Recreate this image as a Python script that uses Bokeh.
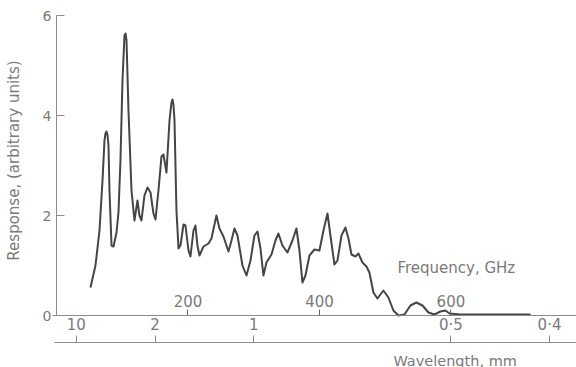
import math
from bokeh.plotting import figure
from bokeh.models import LinearAxis, FixedTicker, Label, Range1d
from bokeh.embed import file_html
from bokeh.resources import INLINE

# ---- data ----
freq_ghz = [51.7, 59.3, 65.4, 70.0, 73.0, 74.5, 76.0, 77.5, 79.1, 80.6, 83.7, 86.7,
            91.3, 94.3, 97.3, 100.4, 103.4, 105.0, 106.5, 109.5, 114.1, 118.6, 123.2,
            126.2, 129.3, 133.8, 138.4, 143.0, 147.5, 150.6, 155.1, 159.7, 162.7,
            167.3, 171.9, 174.9, 176.4, 177.9, 179.5, 182.5, 185.6, 188.6, 193.2, 196.2, 200.8,
            203.8, 208.4, 211.4, 214.4, 217.5, 223.6, 231.2, 235.7, 243.3, 247.9,
            254.0, 261.6, 266.2, 270.7, 275.3, 282.9, 289.0, 295.1, 301.1, 305.7,
            310.3, 314.8, 319.4, 327.0, 333.1, 337.6, 343.7, 351.3, 358.9, 365.0,
            369.6, 374.1, 378.7, 384.8, 392.4, 400.0, 406.1, 412.2, 416.7, 422.8,
            427.4, 433.5, 439.5, 444.1, 448.7, 454.8, 459.3, 465.4, 471.5, 476.0,
            482.1, 488.2, 497.3, 504.9, 512.5, 520.2, 529.3, 538.4, 547.5, 556.7,
            565.8, 574.9, 584.0, 591.6, 597.9, 614.4, 721.0]
response = [0.56, 1.0, 1.7, 2.7, 3.5, 3.64, 3.68, 3.62, 3.4, 2.5, 1.4, 1.38,
            1.66, 2.06, 3.1, 4.7, 5.6, 5.64, 5.5, 4.1, 2.5, 1.9, 2.3,
            2.0, 1.9, 2.4, 2.56, 2.46, 2.04, 1.92, 2.5, 3.18, 3.22,
            2.86, 3.9, 4.26, 4.32, 4.22, 3.9, 2.1, 1.34, 1.4, 1.82, 1.8, 1.3,
            1.18, 1.7, 1.8, 1.4, 1.2, 1.38, 1.44, 1.54, 2.0, 1.74,
            1.58, 1.28, 1.5, 1.74, 1.6, 1.0, 0.8, 1.1, 1.6, 1.68,
            1.34, 0.8, 1.06, 1.22, 1.5, 1.64, 1.4, 1.26, 1.5, 1.74,
            1.3, 0.66, 0.8, 1.2, 1.32, 1.3, 1.7, 2.04, 1.6, 1.02,
            1.1, 1.6, 1.76, 1.54, 1.22, 1.18, 1.24, 1.06, 0.98, 0.86,
            0.46, 0.34, 0.5, 0.36, 0.1, 0.0, 0.02, 0.2, 0.26, 0.2,
            0.06, 0.02, 0.08, 0.1, 0.04, 0.02, 0.02]

y_ticks = [0, 2, 4, 6]
freq_ticks = [200, 400, 600]
wavelength_mm = [10, 2, 1, 0.5, 0.4]
wavelength_labels = ["10", "2", "1", "0·5", "0·4"]

C_MM_GHZ = 300.0  # c in mm*GHz
wl_tick_freqs = [C_MM_GHZ / w for w in wavelength_mm]

TEXT = "#7a7a7a"
AXIS = "#8c8c8c"
FONT = "DejaVu Sans"

p = figure(width=576, height=367, output_backend="svg", toolbar_location=None,
           x_range=Range1d(-85.17, 791), y_range=Range1d(-1.04, 6.3),
           x_axis_location=None, y_axis_location=None, min_border=0)
p.grid.visible = False
p.outline_line_color = None
p.background_fill_color = "white"
p.border_fill_color = "white"

p.line(freq_ghz, response, line_color="#454545", line_width=2, line_join="round")

# left axis (fixed at 0 GHz)
yax = LinearAxis(fixed_location=0, ticker=FixedTicker(ticks=y_ticks), bounds=(0, 6),
                 major_tick_in=8, major_tick_out=0, minor_tick_line_color=None,
                 axis_line_color=AXIS, major_tick_line_color=AXIS,
                 major_label_text_color=TEXT, major_label_text_font=FONT,
                 major_label_text_font_size="14px", major_label_standoff=5)
p.add_layout(yax, "left")

# frequency axis (at response 0)
fax = LinearAxis(fixed_location=0, ticker=FixedTicker(ticks=freq_ticks), bounds=(-6, 791),
                 major_tick_in=0, major_tick_out=6, minor_tick_line_color=None,
                 axis_line_color=AXIS, major_tick_line_color="#666666",
                 major_label_text_color=TEXT, major_label_text_font=FONT,
                 major_label_text_font_size="15px", major_label_standoff=3)
p.add_layout(fax, "above")

# wavelength axis
wax = LinearAxis(fixed_location=-0.54, ticker=FixedTicker(ticks=wl_tick_freqs), bounds=(-3, 791),
                 major_label_overrides={t: l for t, l in zip(wl_tick_freqs, wavelength_labels)},
                 major_tick_in=0, major_tick_out=7, minor_tick_line_color=None,
                 axis_line_color=AXIS, major_tick_line_color=AXIS,
                 major_label_text_color=TEXT, major_label_text_font=FONT,
                 major_label_text_font_size="15px", major_label_standoff=2)
p.add_layout(wax, "above")

p.add_layout(Label(x=518.6, y=0.96, text="Frequency, GHz", text_color=TEXT, text_font=FONT,
                   text_font_size="15px", text_align="left", text_baseline="middle"))
p.add_layout(Label(x=512.5, y=-0.9, text="Wavelength, mm", text_color=TEXT, text_font=FONT,
                   text_font_size="14.5px", text_align="left", text_baseline="middle"))
p.add_layout(Label(x=-63.9, y=3.1, text="Response, (arbitrary units)", angle=math.pi / 2,
                   text_color=TEXT, text_font=FONT, text_font_size="15px",
                   text_align="center", text_baseline="middle"))

open("out.html", "w").write(file_html(p, INLINE))
